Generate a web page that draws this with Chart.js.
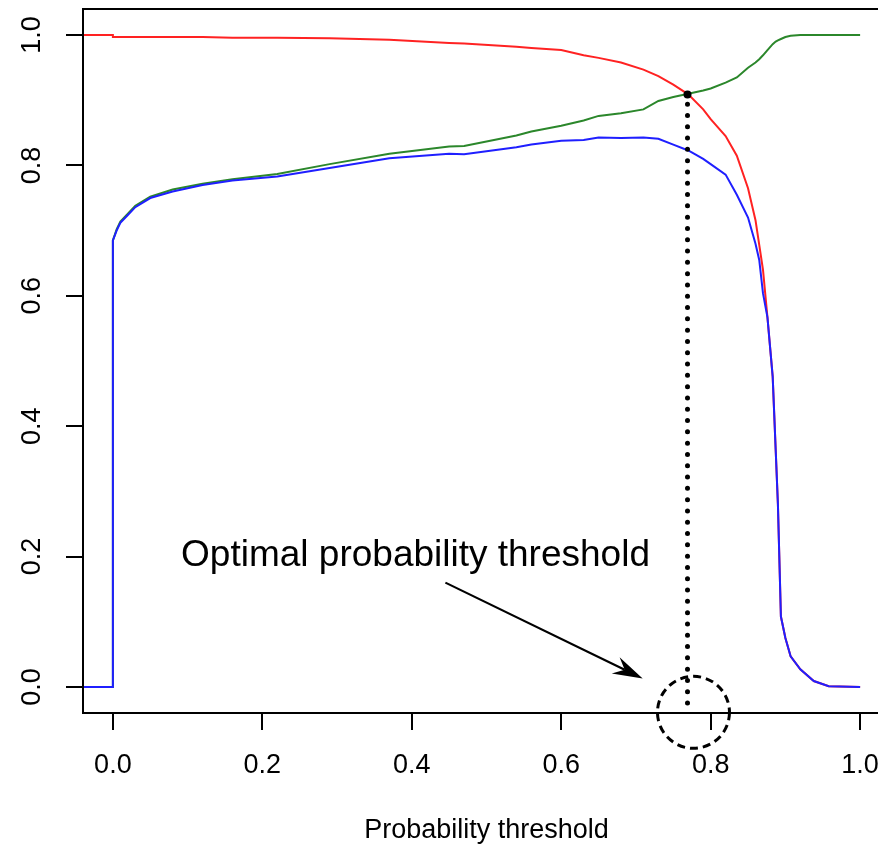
<!DOCTYPE html>
<html>
<head>
<meta charset="utf-8">
<script src="https://cdn.jsdelivr.net/npm/chart.js@4.4.1/dist/chart.umd.min.js"></script>
<style>
  html, body { margin: 0; padding: 0; background: #fff; overflow: hidden; }
  canvas { display: block; }
</style>
</head>
<body>
<canvas id="thresholdChart" width="894" height="847"></canvas>
<script>
// probability thresholds (x) shared by the three curves
const thresholds = [-0.04, 0, 0, 0.005, 0.01, 0.02, 0.03, 0.05, 0.08, 0.12,
  0.16, 0.22, 0.29, 0.37, 0.45, 0.47, 0.54, 0.56, 0.6, 0.63,
  0.65, 0.68, 0.71, 0.73, 0.75, 0.77, 0.79, 0.8, 0.82, 0.835,
  0.85, 0.86, 0.865, 0.87, 0.876, 0.883, 0.887, 0.89, 0.894, 0.9,
  0.907, 0.92, 0.938, 0.958, 1.0];

const redValues = [1.0, 1.0, 0.997, 0.997, 0.997, 0.997, 0.997, 0.997, 0.997, 0.997,
  0.996, 0.996, 0.995, 0.993, 0.988, 0.987, 0.982, 0.980, 0.977, 0.969,
  0.965, 0.958, 0.947, 0.937, 0.924, 0.909, 0.886, 0.871, 0.845, 0.815,
  0.765, 0.716, 0.678, 0.640, 0.567, 0.476, 0.364, 0.280, 0.108, 0.075,
  0.047, 0.027, 0.009, 0.001, 0];

const greenValues = [0, 0, 0.685, 0.702, 0.714, 0.726, 0.738, 0.752, 0.763, 0.772,
  0.779, 0.787, 0.802, 0.818, 0.829, 0.830, 0.846, 0.852, 0.861, 0.869,
  0.876, 0.880, 0.886, 0.899, 0.905, 0.910, 0.915, 0.918, 0.927, 0.935,
  0.950, 0.958, 0.963, 0.969, 0.977, 0.986, 0.990, 0.992, 0.994, 0.997,
  0.999, 1.0, 1.0, 1.0, 1.0];

const blueValues = [0, 0, 0.685, 0.700, 0.712, 0.724, 0.736, 0.750, 0.760, 0.770,
  0.777, 0.783, 0.796, 0.811, 0.818, 0.817, 0.828, 0.832, 0.838, 0.839,
  0.843, 0.842, 0.843, 0.841, 0.832, 0.823, 0.810, 0.802, 0.786, 0.755,
  0.720, 0.680, 0.655, 0.604, 0.567, 0.476, 0.364, 0.280, 0.108, 0.075,
  0.047, 0.027, 0.009, 0.001, 0];

const xTicks = [0, 0.2, 0.4, 0.6, 0.8, 1.0];
const yTicks = [0, 0.2, 0.4, 0.6, 0.8, 1.0];

// optimal threshold where red and green cross
const optimalX = 0.769;
const optimalY = 0.909;
const dottedBottom = -0.03;
const circleCenter = { x: 0.777, y: -0.039 };
const arrowFrom = { x: 0.445, y: 0.160 };
const arrowTo = { x: 0.709, y: 0.013 };
const labelPos = { x: 0.405, y: 0.186 };
const labelText = 'Optimal probability threshold';

const FONT = "'Liberation Sans', Arial, Helvetica, sans-serif";

function toPoints(values) {
  return thresholds.map((t, i) => ({ x: t, y: values[i] }));
}

// box, dashed circle, arrow and label
const annotationPlugin = {
  id: 'annotations',
  afterDraw(chart) {
    const { ctx, chartArea, scales } = chart;
    const xs = scales.x, ys = scales.y;
    ctx.save();

    ctx.strokeStyle = '#000';
    ctx.lineWidth = 2;
    ctx.strokeRect(chartArea.left, chartArea.top, chartArea.right - chartArea.left, chartArea.bottom - chartArea.top);

    // dashed circle around the optimum
    ctx.setLineDash([8, 5]);
    ctx.lineWidth = 3;
    ctx.beginPath();
    ctx.arc(xs.getPixelForValue(circleCenter.x), ys.getPixelForValue(circleCenter.y), 36, 0, Math.PI * 2);
    ctx.stroke();
    ctx.setLineDash([]);

    // arrow
    const x1 = xs.getPixelForValue(arrowFrom.x), y1 = ys.getPixelForValue(arrowFrom.y);
    const x2 = xs.getPixelForValue(arrowTo.x), y2 = ys.getPixelForValue(arrowTo.y);
    const len = Math.hypot(x2 - x1, y2 - y1);
    const ux = (x2 - x1) / len, uy = (y2 - y1) / len;
    const nx = -uy, ny = ux;
    ctx.lineWidth = 2.2;
    ctx.beginPath();
    ctx.moveTo(x1, y1);
    ctx.lineTo(x2 - 20 * ux, y2 - 20 * uy);
    ctx.stroke();
    ctx.fillStyle = '#000';
    ctx.beginPath();
    ctx.moveTo(x2, y2);
    ctx.lineTo(x2 - 30 * ux + 9 * nx, y2 - 30 * uy + 9 * ny);
    ctx.lineTo(x2 - 20 * ux, y2 - 20 * uy);
    ctx.lineTo(x2 - 30 * ux - 9 * nx, y2 - 30 * uy - 9 * ny);
    ctx.closePath();
    ctx.fill();

    // label
    ctx.font = '37px ' + FONT;
    ctx.textAlign = 'center';
    ctx.textBaseline = 'alphabetic';
    ctx.fillText(labelText, xs.getPixelForValue(labelPos.x), ys.getPixelForValue(labelPos.y));
    ctx.restore();
  }
};

const tickFont = { family: FONT, size: 27 };

new Chart(document.getElementById('thresholdChart'), {
  type: 'line',
  data: {
    datasets: [
      {
        data: [{ x: optimalX, y: optimalY }],
        showLine: false,
        pointRadius: 4,
        pointBackgroundColor: '#000',
        pointBorderWidth: 0,
        order: 0
      },
      {
        data: [{ x: optimalX, y: optimalY - 0.015 }, { x: optimalX, y: dottedBottom }],
        borderColor: '#000',
        borderWidth: 5,
        borderDash: [0, 11.3],
        borderCapStyle: 'round',
        pointRadius: 0,
        order: 1
      },
      {
        label: 'blue',
        data: toPoints(blueValues),
        borderColor: '#1f1fff',
        borderWidth: 2,
        pointRadius: 0,
        tension: 0,
        order: 2
      },
      {
        label: 'green',
        data: toPoints(greenValues),
        borderColor: '#2b872b',
        borderWidth: 2,
        pointRadius: 0,
        tension: 0,
        order: 3
      },
      {
        label: 'red',
        data: toPoints(redValues),
        borderColor: '#ff2222',
        borderWidth: 2,
        pointRadius: 0,
        tension: 0,
        order: 4
      }
    ]
  },
  options: {
    responsive: false,
    animation: false,
    devicePixelRatio: 1,
    layout: { padding: { top: 9, right: 0, left: 0, bottom: 0 } },
    plugins: {
      legend: { display: false },
      tooltip: { enabled: false }
    },
    scales: {
      x: {
        type: 'linear',
        min: -0.04,
        max: 1.04,
        afterBuildTicks: s => { s.ticks = xTicks.map(v => ({ value: v })); },
        afterFit: s => { s.height = 134; s.paddingLeft = 0; s.paddingRight = 0; },
        ticks: {
          font: tickFont,
          color: '#000',
          padding: 19,
          maxRotation: 0,
          callback: v => v.toFixed(1)
        },
        grid: { drawOnChartArea: false, tickLength: 17, color: '#000', lineWidth: 2 },
        border: { display: true, color: '#000', width: 2 },
        title: {
          display: true,
          text: 'Probability threshold',
          font: tickFont,
          color: '#000',
          padding: { top: 0, bottom: 0 }
        }
      },
      y: {
        type: 'linear',
        min: -0.04,
        max: 1.04,
        afterBuildTicks: s => { s.ticks = yTicks.map(v => ({ value: v })); },
        afterFit: s => { s.width = 83; s.paddingTop = 0; s.paddingBottom = 0; },
        ticks: {
          font: tickFont,
          color: '#000',
          padding: 15,
          minRotation: 90,
          maxRotation: 90,
          crossAlign: 'center',
          callback: v => v.toFixed(1)
        },
        grid: { drawOnChartArea: false, tickLength: 17, color: '#000', lineWidth: 2 },
        border: { display: true, color: '#000', width: 2 }
      }
    }
  },
  plugins: [annotationPlugin]
});
</script>
</body>
</html>
